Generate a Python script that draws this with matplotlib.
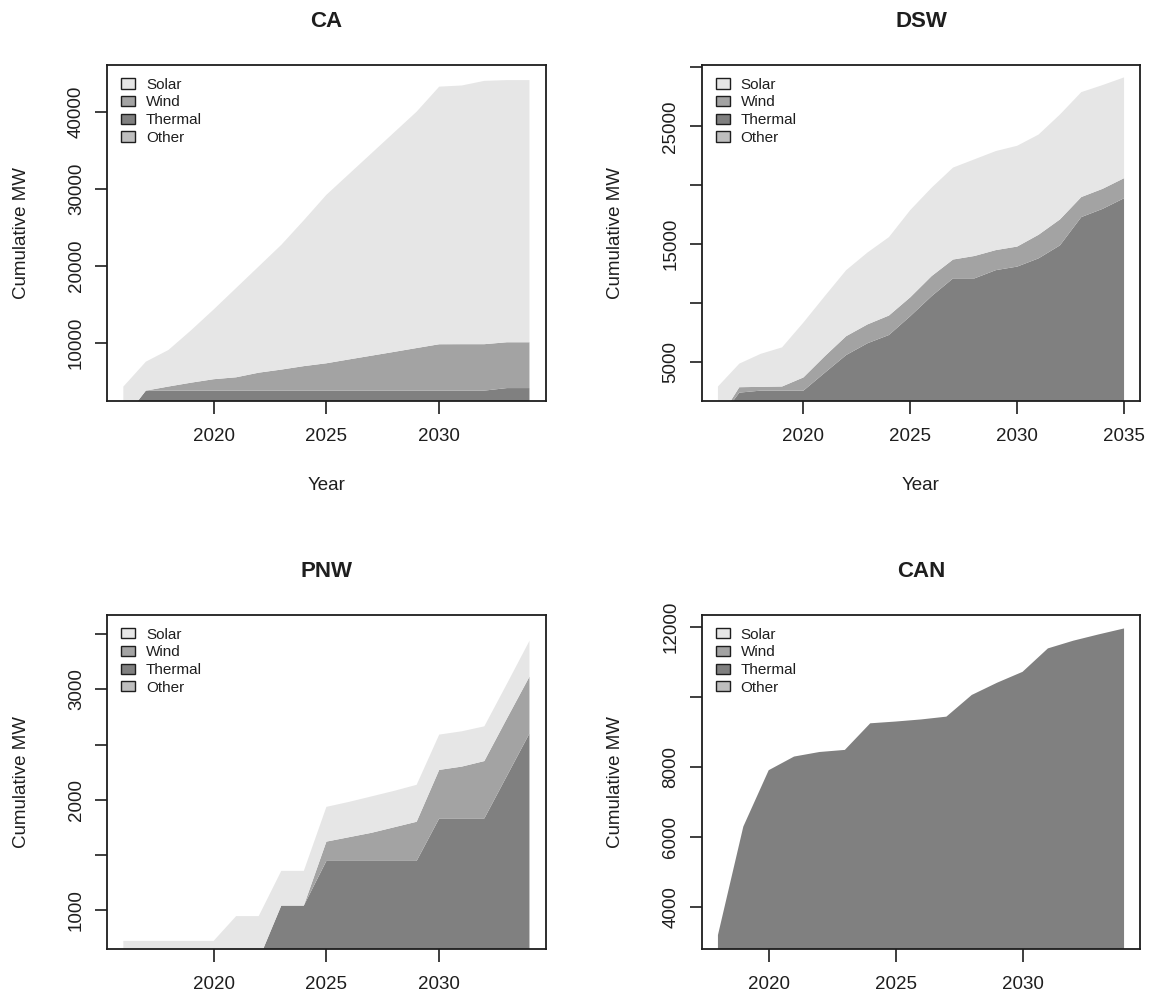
import matplotlib
matplotlib.use('Agg')
import matplotlib.pyplot as plt
from matplotlib.patches import Patch
import numpy as np

plt.rcParams['font.family'] = ['Liberation Sans', 'DejaVu Sans']

W, H = 1155, 998
DPI = 100

# ---------------- data ----------------
legend_labels = ['Solar', 'Wind', 'Thermal', 'Other']
colors = {'Solar': '#E6E6E6', 'Wind': '#A3A3A3', 'Thermal': '#808080', 'Other': '#BEBEBE'}

ca_years = list(range(2016, 2035))
ca_thermal = [0, 3770, 3770, 3770, 3770, 3770, 3770, 3770, 3770, 3770, 3770, 3770,
              3770, 3770, 3770, 3770, 3770, 4100, 4100]
ca_wind = [0, 0, 530, 1030, 1480, 1730, 2330, 2730, 3180, 3550, 4050, 4540, 5030,
           5530, 6020, 6030, 6030, 5950, 5950]
ca_solar = [4290, 3760, 4750, 6800, 9050, 11600, 13800, 16200, 18950, 21880, 24080,
            26290, 28500, 30700, 33460, 33600, 34200, 34050, 34050]

dsw_years = list(range(2016, 2036))
dsw_thermal = [0, 2410, 2580, 2580, 2580, 4100, 5600, 6600, 7300, 8900, 10600, 12100,
               12100, 12800, 13100, 13800, 14900, 17300, 18000, 18900]
dsw_wind = [0, 460, 320, 350, 1120, 1400, 1600, 1600, 1650, 1600, 1700, 1600, 1900,
            1700, 1700, 2000, 2200, 1700, 1700, 1700]
dsw_solar = [2930, 2000, 2800, 3320, 4660, 5100, 5600, 6100, 6650, 7400, 7500, 7800,
             8200, 8400, 8550, 8500, 8900, 8900, 8800, 8550]

pnw_years = list(range(2016, 2035))
pnw_thermal = [0, 0, 0, 0, 0, 0, 550, 1040, 1040, 1445, 1445, 1445, 1445, 1445,
               1830, 1830, 1830, 2215, 2600]
pnw_wind = [0, 0, 0, 0, 0, 0, 0, 0, 0, 175, 215, 255, 305, 355, 440, 470, 520, 520, 515]
pnw_solar = [720, 720, 720, 720, 720, 945, 395, 315, 315, 315, 320, 330, 330, 335,
             320, 320, 315, 315, 325]

can_years = list(range(2018, 2035))
can_thermal = [3190, 6290, 7900, 8290, 8420, 8480, 9240, 9290, 9350, 9430, 10050,
               10400, 10710, 11380, 11600, 11780, 11950]

panels = [
    dict(title='CA', years=ca_years,
         layers=[('Thermal', ca_thermal), ('Wind', ca_wind), ('Solar', ca_solar)],
         ylim=(2420, 46060), yticks=[10000, 20000, 30000, 40000],
         ylabels=['10000', '20000', '30000', '40000'],
         xticks=[2020, 2025, 2030], box=(107.1, 65, 545.7, 401), xlabel=True),
    dict(title='DSW', years=dsw_years,
         layers=[('Thermal', dsw_thermal), ('Wind', dsw_wind), ('Solar', dsw_solar)],
         ylim=(1700, 30200), yticks=[5000, 10000, 15000, 20000, 25000, 30000],
         ylabels=['5000', '', '15000', '', '25000', ''],
         xticks=[2020, 2025, 2030, 2035], box=(701.7, 65, 1140.3, 401), xlabel=True),
    dict(title='PNW', years=pnw_years,
         layers=[('Thermal', pnw_thermal), ('Wind', pnw_wind), ('Solar', pnw_solar)],
         ylim=(644, 3674), yticks=[1000, 1500, 2000, 2500, 3000, 3500],
         ylabels=['1000', '', '2000', '', '3000', ''],
         xticks=[2020, 2025, 2030], box=(107.1, 615, 545.7, 949.3), xlabel=False),
    dict(title='CAN', years=can_years,
         layers=[('Thermal', can_thermal)],
         ylim=(2783, 12334), yticks=[4000, 6000, 8000, 10000, 12000],
         ylabels=['4000', '6000', '8000', '', '12000'],
         xticks=[2020, 2025, 2030], box=(701.7, 615, 1140.3, 949.3), xlabel=False),
]

# ---------------- drawing ----------------
fig = plt.figure(figsize=(W / DPI, H / DPI), dpi=DPI)
fig.patch.set_facecolor('white')

def fx(px):
    return px / W

def fy(py):
    return 1 - py / H

TICK_FS = 13.5
INK = '#1e1e1e'
for p in panels:
    l, t, r, b = p['box']
    ax = fig.add_axes([fx(l), fy(b), (r - l) / W, (b - t) / H])
    x = np.array(p['years'], dtype=float)
    base = np.zeros(len(x))
    for name, vals in p['layers']:
        top = base + np.array(vals, dtype=float)
        ax.fill_between(x, base, top, facecolor=colors[name], edgecolor='none',
                        linewidth=0)
        base = top
    span = x[-1] - x[0]
    ax.set_xlim(x[0] - 0.04 * span, x[-1] + 0.04 * span)
    ax.set_ylim(*p['ylim'])
    ax.set_xticks(p['xticks'])
    ax.set_xticklabels([str(v) for v in p['xticks']], fontsize=TICK_FS, color=INK)
    ax.set_yticks(p['yticks'])
    ax.set_yticklabels(p['ylabels'], fontsize=TICK_FS, color=INK,
                       rotation=90, va='center')
    ax.tick_params(axis='both', direction='out', length=9, width=1.2, color=INK)
    ax.tick_params(axis='x', pad=10.5)
    ax.tick_params(axis='y', pad=7)
    for s in ax.spines.values():
        s.set_linewidth(1.3)
        s.set_color(INK)
    handles = [Patch(facecolor=colors[n], edgecolor=INK, linewidth=1.0)
               for n in legend_labels]
    ax.legend(handles, legend_labels, loc='upper left', bbox_to_anchor=(0.032, 0.962),
              borderaxespad=0, borderpad=0, frameon=False, fontsize=11,
              handlelength=0.92, handleheight=0.65, handletextpad=0.7,
              labelspacing=0.24, labelcolor=INK)
    cx = (l + r) / 2
    fig.text(fx(cx), fy(t - 38.3), p['title'], ha='center', va='baseline',
             fontsize=16, fontweight='bold', color=INK)
    fig.text(fx(l - 85.7), fy((t + b) / 2), 'Cumulative MW', rotation=90,
             ha='center', va='center', fontsize=TICK_FS, color=INK)
    if p['xlabel']:
        fig.text(fx(cx), fy(b + 89), 'Year', ha='center', va='baseline',
                 fontsize=TICK_FS, color=INK)

fig.savefig('out.png', dpi=DPI, facecolor='white')
